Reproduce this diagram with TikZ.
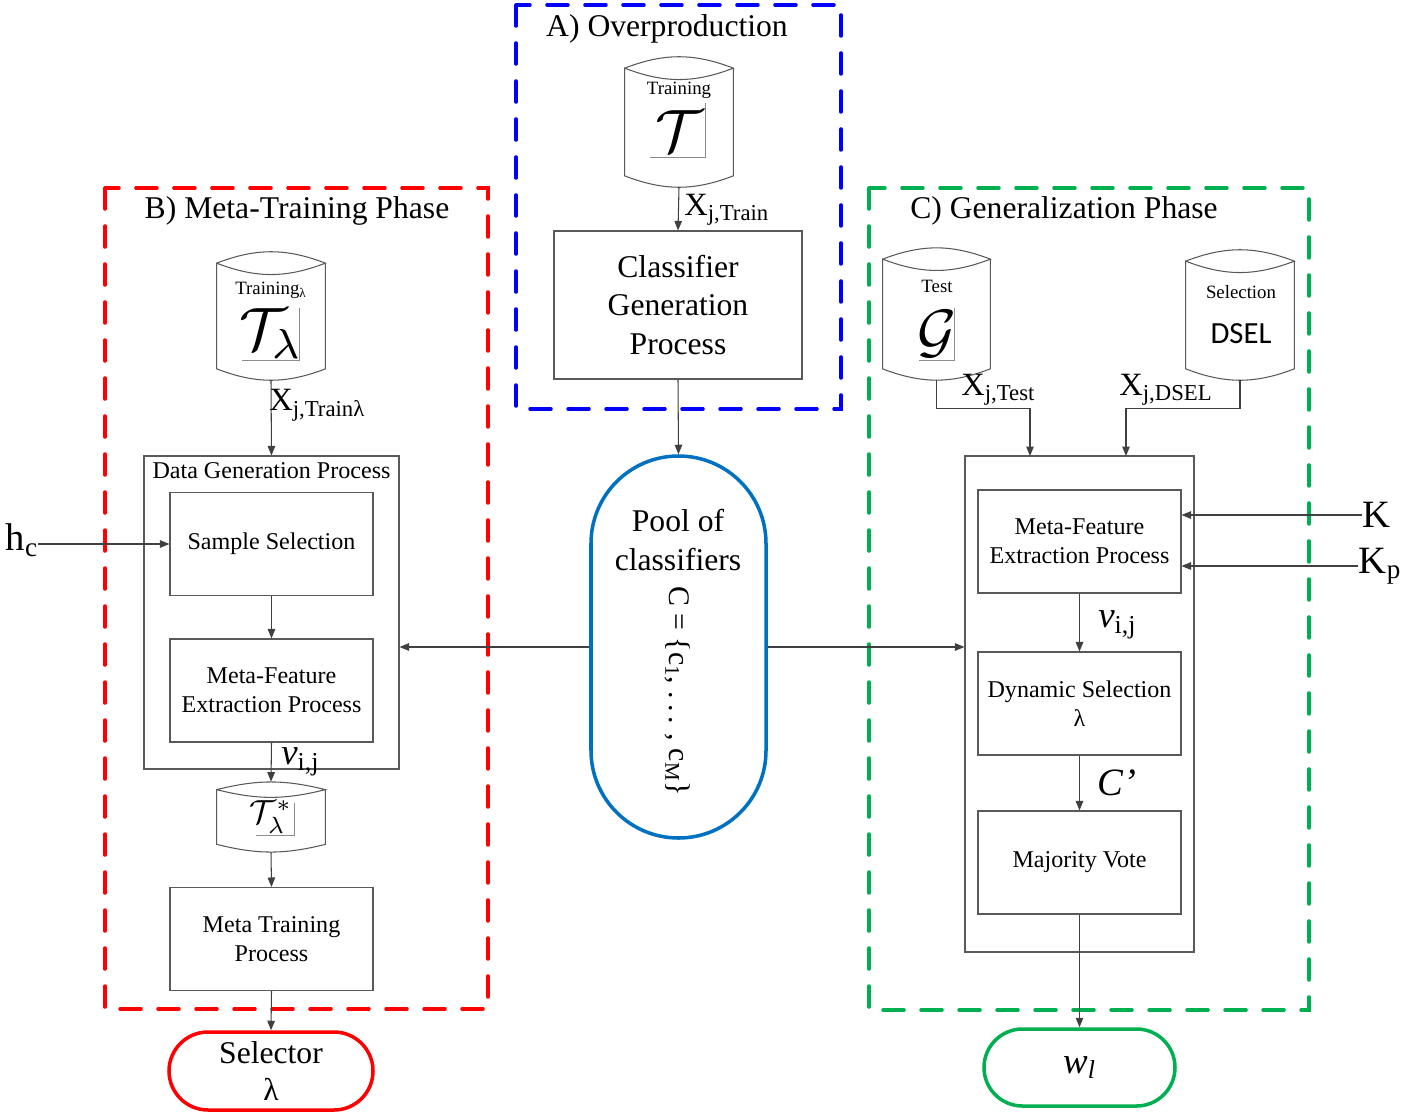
\documentclass[tikz,border=0pt]{standalone}
\usepackage{amsmath}
\usepackage{graphicx}
\usepackage{fontspec}
\setmainfont{Liberation Serif}
\newfontfamily\dselfont{Carlito}
\usetikzlibrary{arrows.meta, calc}

\definecolor{phasered}{RGB}{255,0,0}
\definecolor{phaseblue}{RGB}{0,0,255}
\definecolor{phasegreen}{RGB}{0,176,80}
\definecolor{poolblue}{RGB}{0,112,192}
\definecolor{lineg}{RGB}{64,64,64}

% data store outline around a named node: #1 node, #2 lens depth, #3 bend
\newcommand{\dbdrum}[3]{%
  \draw[drumline] ([yshift=-#2]#1.north west) to[bend left=#3] ([yshift=-#2]#1.north east)
    to[bend left=#3] ([yshift=-#2]#1.north west) -- ([yshift=#2]#1.south west)
    to[bend right=#3] ([yshift=#2]#1.south east) -- ([yshift=-#2]#1.north east);}

\begin{document}
\begin{tikzpicture}[
    x=0.2mm, y=-0.2mm,
    box/.style={rectangle, draw=black!65, line width=0.6pt, align=center,
                minimum width=40.6mm, minimum height=20.6mm, inner sep=1pt,
                font=\fontsize{13.7}{16.4}\selectfont},
    bigbox/.style={rectangle, draw=black!65, line width=0.6pt, inner sep=0},
    drum/.style={rectangle, inner sep=0, minimum width=21.6mm},
    drumline/.style={draw=black!65, line width=0.6pt},
    eqframe/.style={draw=black!45, line width=0.4pt},
    dashframe/.style={line width=2pt, dash pattern=on 4.2mm off 3.4mm, line cap=round},
    phasetitle/.style={inner sep=0, font=\fontsize{18}{22}\selectfont},
    smalltxt/.style={inner sep=0, font=\fontsize{10.7}{12}\selectfont},
    lbl/.style={anchor=west, inner sep=0, font=\fontsize{18.5}{20}\selectfont},
    vlbl/.style={anchor=west, inner sep=0, font=\fontsize{21}{22}\selectfont},
    term/.style={rectangle, rounded corners=7.8mm, line width=2pt, align=center,
                 minimum width=40.8mm, minimum height=15.6mm,
                 font=\fontsize{18}{21}\selectfont},
    arr/.style={-{Triangle[length=1.9mm,width=1.5mm]}, draw=lineg, line width=0.6pt}
  ]
  \useasboundingbox (0,0) rectangle (1426,1117);

  % A) Overproduction
  \draw[dashframe, phaseblue] (516,5) rectangle (841,409);
  \node[phasetitle] (titA) at (667,29) {A) Overproduction};
  \node[drum, minimum height=26mm] (trainA) at (679,122) {};
  \dbdrum{trainA}{2.3mm}{21}
  \node[smalltxt] (trainAtxt) at (679,90) {Training};
  \node[inner sep=0] (setT) at (679,131) {\scalebox{3.4}{$\mathcal{T}$}};
  \draw[eqframe] (705,103) -- (705,157) -- (650,157);
  \node[box, minimum width=49.6mm, minimum height=29.6mm,
        font=\fontsize{18}{22}\selectfont] (clsgen) at (678,305) {Classifier\\Generation\\Process};
  \draw[arr] (trainA.south) -- (clsgen.north);
  \node[lbl] (xtrain) at (684,210) {X\textsubscript{j,Train}};

  % pool
  \node[term, draw=poolblue, rounded corners=17.5mm, minimum width=35mm,
        minimum height=76.4mm] (pool) at (678.5,647) {};
  \draw[arr] (clsgen.south) -- (pool.north);
  \node[phasetitle, align=center] (pooltxt) at (678,540) {Pool of\\classifiers};
  \node[phasetitle, rotate=-90, font=\fontsize{17}{20}\selectfont] (poolset) at (678,691)
    {C = \{c\textsubscript{1}, .\,.\,. , c\textsubscript{M}\}};

  % B) Meta-Training Phase
  \draw[dashframe, phasered] (105,188) rectangle (488,1009);
  \node[phasetitle] (titB) at (297,211) {B) Meta-Training Phase};
  \node[drum, minimum height=25.6mm] (trainB) at (271,316) {};
  \dbdrum{trainB}{2.3mm}{21}
  \node[smalltxt] (trainBtxt) at (271,290) {Training\textsubscript{λ}};
  \node[inner sep=0] (setTl) at (271,334) {\scalebox{3.4}{$\mathcal{T}_\lambda$}};
  \draw[eqframe] (299,308) -- (299,360) -- (242,360);
  \node[bigbox, minimum width=51mm, minimum height=62.6mm] (datagen) at (271.5,612.5) {};
  \node[inner sep=0, font=\fontsize{13.7}{16}\selectfont] (datagentxt) at (271.5,471)
    {Data Generation Process};
  \draw[arr] (trainB.south) -- (datagen.north);
  \node[lbl] (xtrainl) at (269,405) {X\textsubscript{j,Trainλ}};
  \node[box] (samplesel) at (271.5,544) {Sample Selection};
  \node[box] (mfeB) at (271.5,690.5) {Meta-Feature\\Extraction Process};
  \draw[arr] (samplesel) -- (mfeB);
  \node[drum, minimum height=14mm] (tstar) at (271,817) {};
  \dbdrum{tstar}{1.6mm}{14}
  \node[inner sep=0] (setTs) at (271,817) {\scalebox{1.9}{$\mathcal{T}^*_\lambda$}};
  \draw[eqframe] (294,803) -- (294,835) -- (256,835);
  \draw[arr] (mfeB.south) -- (tstar.north);
  \node[vlbl] (vijB) at (281,762) {\textit{v}\textsubscript{i,j}};
  \node[box] (metatrain) at (271.5,939) {Meta Training\\Process};
  \draw[arr] (tstar.south) -- (metatrain.north);
  \node[term, draw=phasered] (selector) at (271,1071) {Selector\\λ};
  \draw[arr] (metatrain.south) -- (selector.north);
  \node[inner sep=0, font=\fontsize{22}{24}\selectfont] (hc) at (22,540) {h\textsubscript{c}};
  \draw[arr] (hc.east |- samplesel.west) -- (samplesel.west);
  \draw[arr] (pool.west) -- (pool.west -| datagen.east);

  % C) Generalization Phase
  \draw[dashframe, phasegreen] (869,188) rectangle (1309,1010);
  \node[phasetitle] (titC) at (1064,211) {C) Generalization Phase};
  \node[drum, minimum width=21.4mm, minimum height=26.4mm] (test) at (936.5,314) {};
  \dbdrum{test}{2.3mm}{21}
  \node[smalltxt] (testtxt) at (937,286) {Test};
  \node[inner sep=0] (setG) at (937,334) {\scalebox{3.4}{$\mathcal{G}$}};
  \draw[eqframe] (954,308) -- (954,360) -- (919,360);
  \node[drum, minimum height=26mm] (selcyl) at (1240,315) {};
  \dbdrum{selcyl}{2.3mm}{21}
  \node[smalltxt] (seltxt) at (1241,292) {Selection};
  \node[inner sep=0, font=\dselfont\fontsize{17.5}{18}\selectfont] (dsel) at (1241,334) {DSEL};
  \node[bigbox, minimum width=45.8mm, minimum height=99.2mm] (outerC) at (1079.5,704) {};
  \coordinate (inTest) at (1030,456);
  \coordinate (inDsel) at (1126,456);
  \draw[arr] (test.south) -- ++(0,28) -| (inTest);
  \draw[arr] (selcyl.south) -- ++(0,28) -| (inDsel);
  \node[lbl] (xtest) at (961,390) {X\textsubscript{j,Test}};
  \node[lbl] (xdsel) at (1119,390) {X\textsubscript{j,DSEL}};
  \draw[arr] (pool.east) -- (pool.east -| outerC.west);
  \node[box] (mfeC) at (1079.5,541.5) {Meta-Feature\\Extraction Process};
  \node[box] (dynsel) at (1079.5,703.5) {Dynamic Selection\\λ};
  \node[box] (majvote) at (1079.5,862.5) {Majority Vote};
  \draw[arr] (mfeC) -- (dynsel);
  \node[vlbl] (vijC) at (1098,625) {\textit{v}\textsubscript{i,j}};
  \draw[arr] (dynsel) -- (majvote);
  \node[vlbl, font=\fontsize{22}{24}\selectfont] (cprime) at (1097,783) {\textit{C’}};
  \node[term, draw=phasegreen, minimum width=38.2mm, minimum height=15.4mm,
        rounded corners=7.7mm, font=\fontsize{21}{22}\selectfont] (wl) at (1079.5,1067.5)
    {\textit{w}\textsubscript{\textit{l}}};
  \draw[arr] (majvote) -- (wl);
  \node[inner sep=0, font=\fontsize{22}{24}\selectfont] (kk) at (1376,515) {K};
  \node[inner sep=0, font=\fontsize{22}{24}\selectfont] (kp) at (1380,566) {K\textsubscript{p}};
  \draw[arr] (kk.west) -- (kk.west -| mfeC.east);
  \draw[arr] (kp.west) -- (kp.west -| mfeC.east);
\end{tikzpicture}
\end{document}
